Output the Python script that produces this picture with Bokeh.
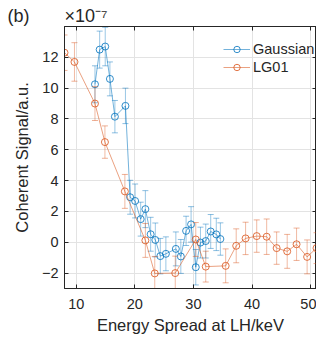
from bokeh.plotting import figure
from bokeh.models import (Range1d, LinearAxis, FixedTicker, Legend,
                          LegendItem, ColumnDataSource)
from bokeh.embed import file_html
from bokeh.resources import INLINE

# ---- data (values in units of 1e-7) ----
gauss_x = [13.2, 14.0, 14.95, 15.75, 16.6, 18.4, 19.2, 20.05, 21.0, 21.8, 22.7, 23.5,
           24.35, 25.3, 27.0, 27.85, 28.75, 29.6, 30.4, 31.2, 32.1, 32.95, 33.9, 34.6]
gauss_y = [10.25, 12.5, 12.7, 10.6, 8.15, 8.85, 2.92, 2.68, 1.5, 2.15, 0.52, 0.15,
           -0.9, -0.75, -0.43, -0.92, 0.74, 1.16, -1.62, -0.02, 0.08, 0.7, 0.51, 0.21]
gauss_err = [1.2, 1.2, 1.25, 1.1, 1.05, 1.15, 1.1, 1.1, 1.1, 1.2, 1.1, 1.1,
             1.15, 1.1, 1.1, 1.1, 0.95, 1.15, 1.15, 1.0, 1.1, 1.1, 1.05, 1.05]

lg_x = [8.0, 9.7, 13.2, 14.9, 18.3, 21.8, 23.4, 26.9, 30.4, 32.1, 35.5, 37.3,
        38.9, 40.8, 42.5, 44.2, 46.0, 47.6, 49.4, 51.0]
lg_y = [12.3, 11.7, 9.0, 6.5, 3.3, 0.12, -2.02, -2.0, 0.18, -1.58, -1.53, -0.23,
        0.25, 0.4, 0.36, -0.38, -0.59, -0.13, -0.95, -0.38]
lg_err = [1.15, 1.25, 1.1, 1.05, 1.1, 1.1, 1.1, 1.1, 1.1, 1.0, 1.1, 1.1,
          1.05, 1.05, 1.15, 1.05, 1.1, 1.05, 1.1, 1.0]

series_names = ["Gaussian", "LG01"]
panel_tag = "(b)"
scale_tag = "\u00d710\u207b\u2077"
x_ticks = [10, 20, 30, 40, 50]
y_ticks = [-2, 0, 2, 4, 6, 8, 10, 12]
X0, X1 = 8, 51
Y0, Y1 = -3, 14

BLUE = "#0072BD"
ORANGE = "#D95319"
TXT = "#262626"
FONT = "Liberation Sans"

W, H = 316, 336
B_LEFT, B_TOP, B_BOTTOM = 64, 26, 48

p = figure(width=W, height=H, output_backend="svg", toolbar_location=None,
           x_range=Range1d(X0, X1), y_range=Range1d(Y0, Y1),
           min_border_left=B_LEFT, min_border_right=0, min_border_top=B_TOP,
           min_border_bottom=B_BOTTOM)
p.background_fill_color = "white"
p.border_fill_color = "white"
p.outline_line_color = TXT
p.outline_line_width = 1

# "(b)" and the scale factor in the title line, left of / above the frame
p.title.text = panel_tag + "\u00a0" * 7 + scale_tag
p.title.align = "left"
p.title.offset = -57
p.title.standoff = 2
p.title.text_font = FONT
p.title.text_font_size = "18px"
p.title.text_font_style = "normal"
p.title.text_color = TXT

p.xaxis.ticker = FixedTicker(ticks=x_ticks)
p.yaxis.ticker = FixedTicker(ticks=y_ticks)
for ax in (p.xaxis[0], p.yaxis[0]):
    ax.axis_line_color = TXT
    ax.major_tick_line_color = TXT
    ax.major_tick_in = 4
    ax.major_tick_out = 0
    ax.minor_tick_line_color = None
    ax.major_label_text_font = FONT
    ax.major_label_text_font_size = "14.5px"
    ax.major_label_text_color = TXT
    ax.axis_label_text_font = FONT
    ax.axis_label_text_font_size = "16.5px"
    ax.axis_label_text_font_style = "normal"
    ax.axis_label_text_color = TXT

p.xaxis.axis_label = "Energy Spread at LH/keV"
p.yaxis.axis_label = "Coherent Signal/a.u."
p.xaxis.major_label_standoff = 10
p.xaxis.axis_label_standoff = 4
p.yaxis.major_label_standoff = 6
p.yaxis.axis_label_standoff = 8

# box ticks on top and right (no labels)
for loc, tk in (("above", x_ticks), ("right", y_ticks)):
    ax = LinearAxis(ticker=FixedTicker(ticks=tk), major_label_text_font_size="0px",
                    major_label_text_color=None,
                    major_tick_in=4, major_tick_out=0, minor_tick_line_color=None,
                    major_label_standoff=0, axis_line_color=TXT,
                    major_tick_line_color=TXT)
    p.add_layout(ax, loc)

p.xgrid.ticker = FixedTicker(ticks=x_ticks)
p.ygrid.ticker = FixedTicker(ticks=y_ticks)
p.grid.grid_line_color = "#e3e3e3"
p.grid.grid_line_width = 1


def series(xs, ys, errs, color):
    src = ColumnDataSource(dict(x=xs, y=ys,
                                lo=[y - e for y, e in zip(ys, errs)],
                                hi=[y + e for y, e in zip(ys, errs)]))
    p.segment(x0="x", y0="lo", x1="x", y1="hi", source=src,
              line_color=color, line_alpha=0.4, line_width=1)
    p.scatter(x="x", y="lo", source=src, marker="dash", size=6,
              line_color=color, line_alpha=0.45, line_width=1)
    p.scatter(x="x", y="hi", source=src, marker="dash", size=6,
              line_color=color, line_alpha=0.45, line_width=1)
    ln = p.line(x="x", y="y", source=src, line_color=color, line_alpha=0.55,
                line_width=1)
    mk = p.scatter(x="x", y="y", source=src, marker="circle", size=7,
                   fill_color=None, line_color=color, line_alpha=0.8, line_width=1)
    return [ln, mk]


g_r = series(gauss_x, gauss_y, gauss_err, BLUE)
l_r = series(lg_x, lg_y, lg_err, ORANGE)

legend = Legend(items=[LegendItem(label=series_names[0], renderers=g_r),
                       LegendItem(label=series_names[1], renderers=l_r)],
                location=(151, 205), margin=0, padding=8, spacing=2,
                glyph_width=27, glyph_height=16, label_height=16,
                label_standoff=3,
                label_text_font=FONT, label_text_font_size="14.5px",
                label_text_color=TXT,
                background_fill_alpha=0, border_line_alpha=0)
p.add_layout(legend)

open("out.html", "w").write(file_html(p, INLINE))
